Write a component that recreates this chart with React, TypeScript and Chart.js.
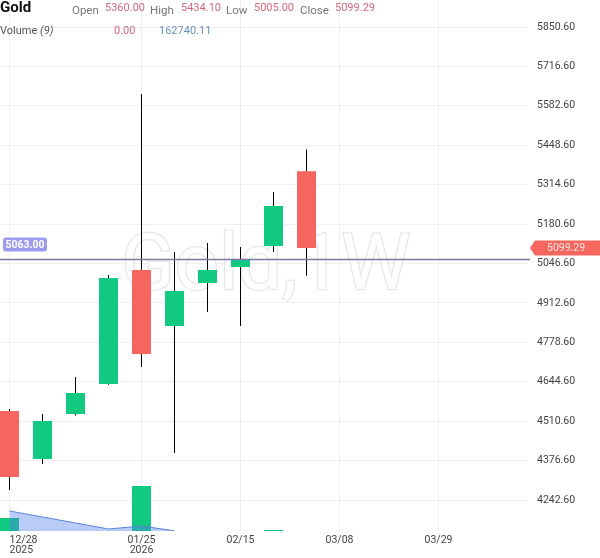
import React, { useEffect, useRef } from 'react';
import { Chart, registerables } from 'chart.js';

Chart.register(...registerables);

// ---- Data (weekly candles, Gold 1W) ----
const weeks = ['12/28', '01/04', '01/11', '01/18', '01/25', '02/01', '02/08', '02/15', '02/22', '03/01'];
const weekIndex = [0, 1, 2, 3, 4, 5, 6, 7, 8, 9];
const opens = [4545.4, 4382.2, 4535.2, 4637.1, 5024.6, 4834.3, 4980.4, 5034.8, 5106.2, 5360.0];
const highs = [4552.2, 4535.2, 4660.9, 5007.6, 5622.9, 5085.8, 5116.4, 5102.8, 5289.8, 5434.1];
const lows = [4276.8, 4365.2, 4530.0, 4635.0, 4694.9, 4402.6, 4881.9, 4834.3, 5085.8, 5005.0];
const closes = [4321.0, 4511.4, 4606.5, 4997.4, 4739.1, 4953.3, 5024.6, 5058.6, 5242.2, 5099.29];
const volumes = [245000, null, null, null, 847000, null, null, null, 19000, null];
const volumeMA = [377000, 264000, 151000, 38000, 94000, 4000, null, null, null, null];

const yTicks = [4242.6, 4376.6, 4510.6, 4644.6, 4778.6, 4912.6, 5046.6, 5180.6, 5314.6, 5448.6, 5582.6, 5716.6, 5850.6];
const xTickPositions = [0, 4, 7, 10, 13];
const xTickLabels = [['12/28', '2025'], ['01/25', '2026'], ['02/15'], ['03/08'], ['03/29']];

const priceLine = 5063.0;
const lastClose = 5099.29;
const watermark = 'Gold,1W';

const GREEN = '#12c981';
const RED = '#f6665e';
const FONT = 'Roboto, "Noto Sans", sans-serif';

export default function App() {
  const ref = useRef<HTMLCanvasElement | null>(null);

  useEffect(() => {
    const canvas = ref.current;
    if (!canvas) return;

    const colors = opens.map((o, i) => (closes[i] >= o ? GREEN : RED));

    const overlay = {
      id: 'overlay',
      beforeDatasetsDraw(chart: any) {
        const { ctx, chartArea } = chart;
        ctx.save();
        ctx.beginPath();
        ctx.rect(chartArea.left, chartArea.top, chartArea.right - chartArea.left, chartArea.bottom - chartArea.top);
        ctx.clip();
        ctx.font = `78px ${FONT}`;
        ctx.textAlign = 'center';
        ctx.textBaseline = 'alphabetic';
        ctx.lineWidth = 2.5;
        ctx.strokeStyle = 'rgba(205,205,190,0.45)';
        ctx.strokeText(watermark, 266, 289);
        ctx.fillStyle = 'rgba(255,255,255,0.92)';
        ctx.fillText(watermark, 266, 289);
        ctx.restore();
      },
      afterDatasetsDraw(chart: any) {
        const { ctx, chartArea, scales } = chart;
        const y = Math.round(scales.y.getPixelForValue(priceLine)) + 0.5;
        ctx.save();
        ctx.strokeStyle = '#7a7aa6';
        ctx.lineWidth = 1.6;
        ctx.beginPath();
        ctx.moveTo(chartArea.left, y);
        ctx.lineTo(chartArea.right + 2, y);
        ctx.stroke();
        // left label
        const lx = 3, ly = y - 22, lw = 44, lh = 14;
        ctx.fillStyle = '#9b9bef';
        ctx.beginPath();
        (ctx as any).roundRect(lx, ly, lw, lh, 3);
        ctx.fill();
        ctx.fillStyle = '#ffffff';
        ctx.font = `bold 10.5px ${FONT}`;
        ctx.textAlign = 'center';
        ctx.textBaseline = 'middle';
        ctx.fillText(priceLine.toFixed(2), lx + lw / 2, ly + lh / 2 + 0.5);
        ctx.restore();
      },
      afterDraw(chart: any) {
        const { ctx, chartArea, scales } = chart;
        ctx.save();
        // x labels
        ctx.font = `10.5px ${FONT}`;
        ctx.fillStyle = '#444';
        ctx.textBaseline = 'middle';
        xTickPositions.forEach((v, i) => {
          const px = scales.x.getPixelForValue(v);
          const lines = xTickLabels[i];
          const w = ctx.measureText(lines[0]).width;
          let align: CanvasTextAlign = 'center';
          if (px - w / 2 < 0) align = 'left';
          ctx.textAlign = align;
          lines.forEach((t, k) => {
            ctx.fillText(t, px, chartArea.bottom + 9 + k * 10);
          });
        });
        // last price tag
        const y = scales.y.getPixelForValue(lastClose);
        const x0 = chartArea.right + 2;
        ctx.fillStyle = '#f4675f';
        ctx.beginPath();
        ctx.moveTo(x0, y);
        ctx.lineTo(x0 + 5, y - 7.5);
        ctx.lineTo(600, y - 7.5);
        ctx.lineTo(600, y + 7.5);
        ctx.lineTo(x0 + 5, y + 7.5);
        ctx.closePath();
        ctx.fill();
        ctx.fillStyle = '#ffe3e1';
        ctx.font = `10.5px ${FONT}`;
        ctx.textAlign = 'left';
        ctx.textBaseline = 'middle';
        ctx.fillText(lastClose.toFixed(2), 547, y + 0.5);
        ctx.restore();
      },
    };

    const chart = new Chart(canvas, {
      type: 'bar',
      data: {
        datasets: [
          {
            type: 'bar',
            label: 'body',
            data: weekIndex.map((x, i) => ({ x, y: [opens[i], closes[i]] })) as any,
            backgroundColor: colors,
            barThickness: 19,
            grouped: false,
            inflateAmount: 0,
            borderWidth: 0,
            yAxisID: 'y',
            order: 0,
          } as any,
          {
            type: 'bar',
            label: 'wick',
            data: weekIndex.map((x, i) => ({ x, y: [lows[i], highs[i]] })) as any,
            backgroundColor: '#000000',
            barThickness: 1,
            grouped: false,
            inflateAmount: 0,
            borderWidth: 0,
            yAxisID: 'y',
            order: 1,
          } as any,
          {
            type: 'line',
            label: 'volMA',
            data: weekIndex.map((x, i) => ({ x, y: volumeMA[i] })) as any,
            borderColor: '#5a84d8',
            borderWidth: 1,
            backgroundColor: 'rgba(80,125,235,0.4)',
            fill: 'origin',
            pointRadius: 0,
            tension: 0,
            yAxisID: 'yv',
            order: 2,
          } as any,
          {
            type: 'bar',
            label: 'volume',
            data: weekIndex.map((x, i) => ({ x, y: volumes[i] })) as any,
            backgroundColor: GREEN,
            barThickness: 19,
            grouped: false,
            inflateAmount: 0,
            borderWidth: 0,
            yAxisID: 'yv',
            order: 3,
          } as any,
        ],
      },
      options: {
        animation: false,
        responsive: false,
        maintainAspectRatio: false,
        layout: { padding: { top: 0, left: 0, right: 0, bottom: 27 } },
        plugins: {
          legend: { display: false },
          tooltip: { enabled: false },
        },
        scales: {
          x: {
            type: 'linear',
            offset: false,
            min: -9.5 / 33,
            max: (528 - 9.5) / 33,
            bounds: 'data',
            grid: { color: '#efefef', drawTicks: false, lineWidth: 1, offset: false },
            border: { display: false },
            ticks: { display: false },
            afterBuildTicks: (s: any) => {
              s.ticks = xTickPositions.map((value) => ({ value }));
            },
            afterFit: (s: any) => {
              s.height = 0;
              s.paddingLeft = 0;
              s.paddingRight = 0;
            },
          },
          y: {
            type: 'linear',
            position: 'right',
            min: 4137.5,
            max: 5942.4,
            bounds: 'data',
            grid: { color: '#efefef', drawTicks: false, lineWidth: 1 },
            border: { display: false },
            ticks: {
              padding: 9,
              color: '#444',
              font: { family: FONT, size: 10.5 },
              callback: (v: any) => Number(v).toFixed(2),
            },
            afterBuildTicks: (s: any) => {
              s.ticks = yTicks.map((value) => ({ value }));
            },
            afterFit: (s: any) => {
              s.width = 72;
              s.paddingTop = 0;
              s.paddingBottom = 0;
            },
          },
          yv: {
            type: 'linear',
            display: false,
            min: 0,
            max: 10000000,
            grid: { display: false },
          },
        },
      } as any,
      plugins: [overlay],
    });

    return () => chart.destroy();
  }, []);

  const lab: React.CSSProperties = { position: 'absolute', fontFamily: FONT, fontSize: '11.5px', lineHeight: '12px', color: '#777', whiteSpace: 'nowrap' };
  const val: React.CSSProperties = { position: 'absolute', fontFamily: FONT, fontSize: '11px', lineHeight: '12px', color: '#d4697c', whiteSpace: 'nowrap' };

  return (
    <div style={{ position: 'fixed', left: 0, top: 0, width: 600, height: 558, background: '#fff', overflow: 'hidden' }}>
      <canvas ref={ref} width={600} height={558} style={{ position: 'absolute', left: 0, top: 0, width: 600, height: 558 }} />
      <div style={{ position: 'absolute', left: 0, top: 0, fontFamily: FONT, fontWeight: 'bold', fontSize: '15px', lineHeight: '15px', color: '#111' }}>Gold</div>
      <div style={{ ...lab, left: 72, top: 4 }}>Open</div>
      <div style={{ ...val, left: 105, top: 2 }}>{opens[opens.length - 1].toFixed(2)}</div>
      <div style={{ ...lab, left: 150, top: 4 }}>High</div>
      <div style={{ ...val, left: 181, top: 2 }}>{highs[highs.length - 1].toFixed(2)}</div>
      <div style={{ ...lab, left: 226, top: 4 }}>Low</div>
      <div style={{ ...val, left: 254, top: 2 }}>{lows[lows.length - 1].toFixed(2)}</div>
      <div style={{ ...lab, left: 300, top: 4 }}>Close</div>
      <div style={{ ...val, left: 335, top: 2 }}>{closes[closes.length - 1].toFixed(2)}</div>
      <div style={{ ...lab, left: 0, top: 25, color: '#555', fontSize: '11px' }}>
        Volume <i>(9)</i>
      </div>
      <div style={{ ...val, left: 114, top: 25 }}>0.00</div>
      <div style={{ ...val, left: 159, top: 25, color: '#6b8fc6' }}>162740.11</div>
    </div>
  );
}
